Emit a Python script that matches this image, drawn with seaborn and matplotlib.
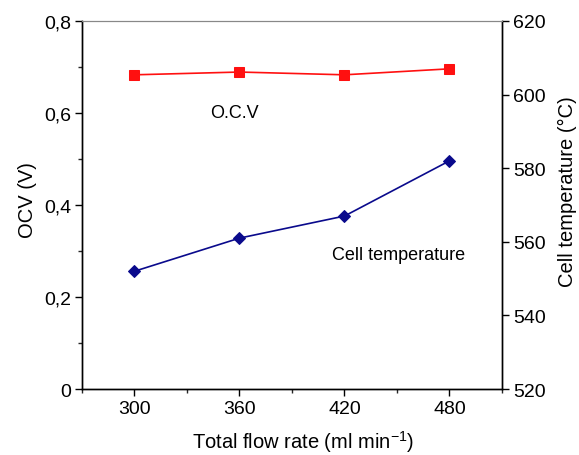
import matplotlib
matplotlib.use("Agg")
import matplotlib.pyplot as plt
import seaborn as sns
import pandas as pd
from matplotlib.ticker import FuncFormatter, MultipleLocator

# data
flow_rate = [300, 360, 420, 480]
ocv = [0.683, 0.689, 0.683, 0.696]
cell_temp = [552, 561, 567, 582]

df = pd.DataFrame({"flow": flow_rate, "ocv": ocv, "temp": cell_temp})

sns.set_theme(style="white")
plt.rcParams["font.family"] = ["Liberation Sans", "DejaVu Sans"]
plt.rcParams["mathtext.default"] = "regular"
plt.rcParams["text.color"] = "black"
plt.rcParams["axes.labelcolor"] = "black"

fig = plt.figure(figsize=(5.79, 4.56), dpi=100)
ax = fig.add_axes([0.1416, 0.1447, 0.7254, 0.8071])
ax2 = ax.twinx()

sns.lineplot(data=df, x="flow", y="ocv", ax=ax, color="#ff1010", marker="s",
             markersize=7, markeredgecolor="#ff1010", linewidth=1.2)
sns.lineplot(data=df, x="flow", y="temp", ax=ax2, color="#0a0a8c", marker="D",
             markersize=6, markeredgecolor="#0a0a8c", linewidth=1.2)

ax.set_xlim(270, 510)
ax.set_ylim(0, 0.8)
ax2.set_ylim(520, 620)

ax.xaxis.set_major_locator(MultipleLocator(60))
ax.xaxis.set_minor_locator(MultipleLocator(30))
ax.yaxis.set_major_locator(MultipleLocator(0.2))
ax.yaxis.set_minor_locator(MultipleLocator(0.1))
ax2.yaxis.set_major_locator(MultipleLocator(20))


def comma_fmt(v, pos):
    if abs(v) < 1e-9:
        return "0"
    return f"{v:.1f}".replace(".", ",")


ax.yaxis.set_major_formatter(FuncFormatter(comma_fmt))

for a in (ax, ax2):
    for side in ("left", "right", "bottom"):
        a.spines[side].set_color("black")
        a.spines[side].set_linewidth(1.0)
    a.spines["top"].set_color("#888888")
    a.spines["top"].set_linewidth(0.8)

ax.tick_params(axis="both", which="major", direction="out", length=5, width=1,
               labelsize=14, colors="black", pad=3,
               bottom=True, left=True, right=False, top=False)
ax.tick_params(axis="both", which="minor", direction="out", length=3, width=1,
               bottom=True, left=True)
ax2.tick_params(axis="y", which="major", direction="out", length=5, width=1,
                labelsize=14, colors="black", pad=3, right=True)

ax.set_xlabel("Total flow rate (ml min$^{-1}$)", fontsize=14.5, labelpad=8)
ax.set_ylabel("OCV (V)", fontsize=14.5, labelpad=5)
ax2.set_ylabel("Cell temperature (\u00b0C)", fontsize=14.5, labelpad=9)
ax.xaxis.label.set_x(0.526)
ax.yaxis.label.set_y(0.515)
ax2.yaxis.label.set_y(0.538)

ax.text(357, 0.602, "O.C.V", fontsize=13, ha="center", va="center")
ax.text(451, 0.293, "Cell temperature", fontsize=13, ha="center", va="center")

fig.savefig("out.png", dpi=100)
